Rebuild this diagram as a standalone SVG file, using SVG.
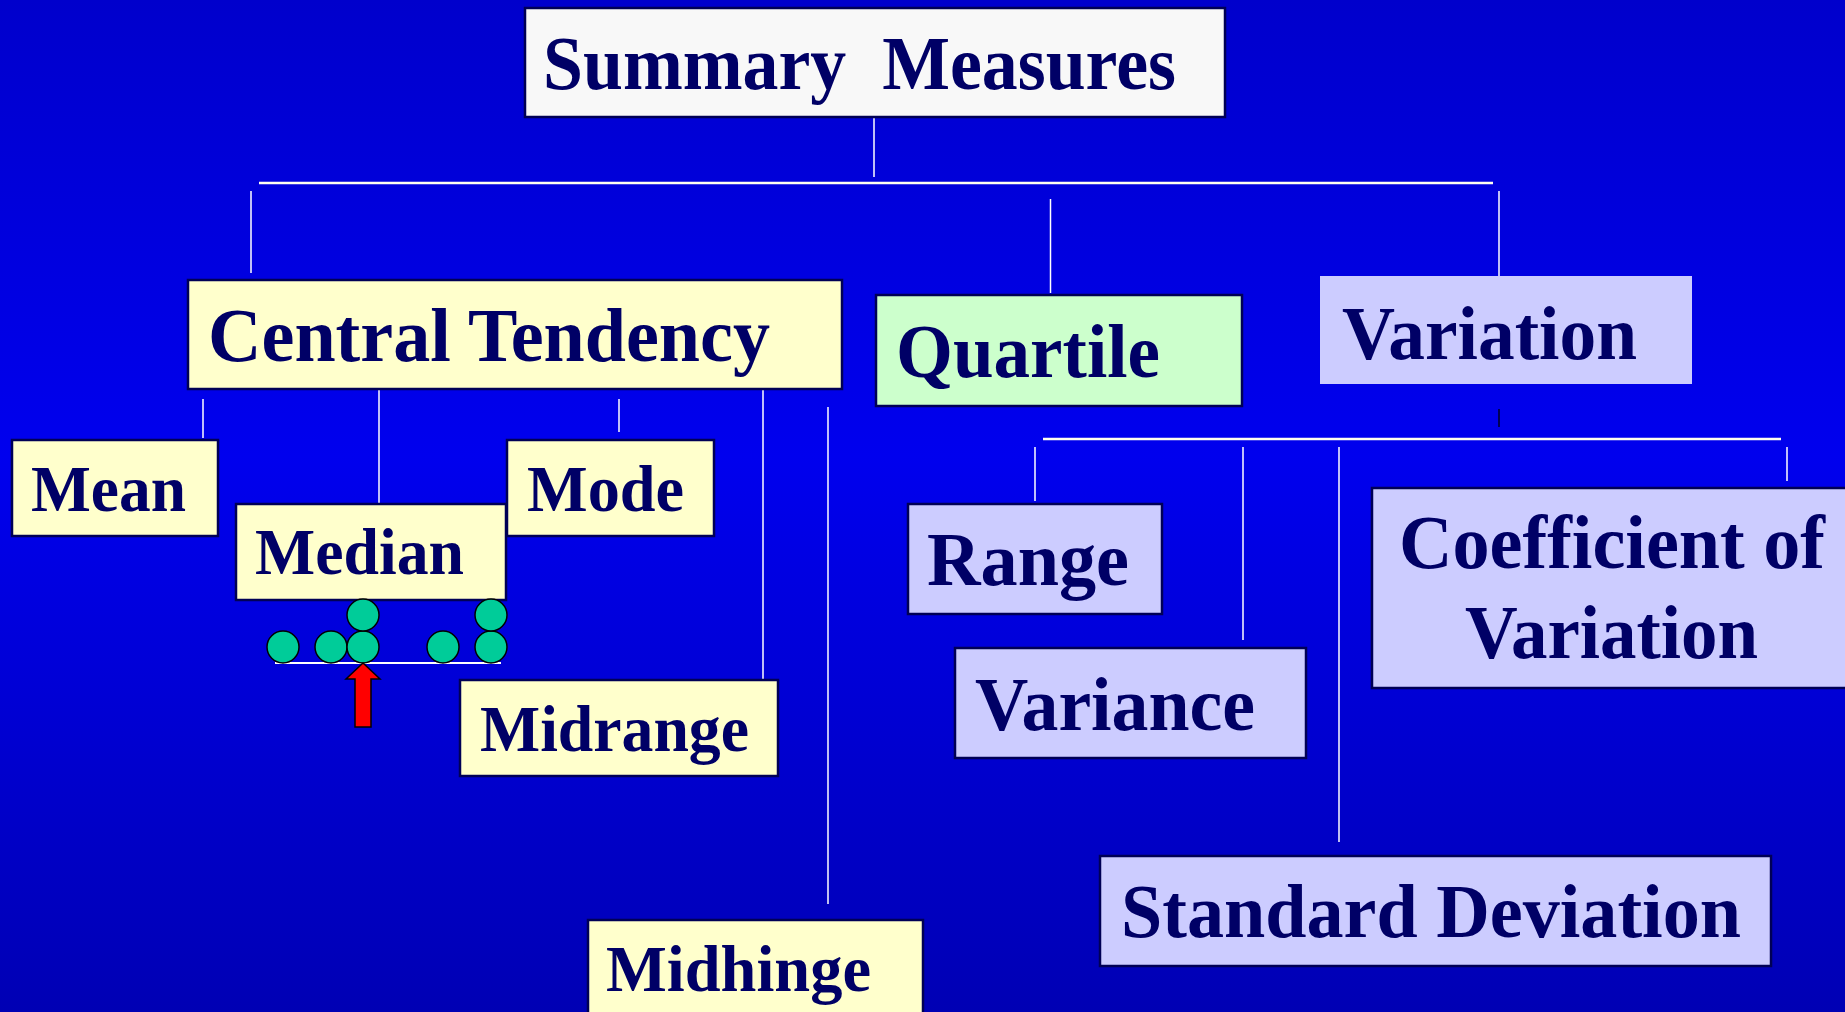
<svg xmlns="http://www.w3.org/2000/svg" width="1845" height="1012" viewBox="0 0 1845 1012">
  <defs>
    <linearGradient id="bg" x1="0" y1="0" x2="0" y2="1">
      <stop offset="0" stop-color="#0000cc"/>
      <stop offset="0.45" stop-color="#0000ee"/>
      <stop offset="1" stop-color="#0000b4"/>
    </linearGradient>
    <style>
      .box { stroke: #000055; stroke-width: 2.5; }
      .yellow { fill: #ffffcc; }
      .green { fill: #ccffcc; }
      .lilac { fill: #ccccff; }
      .plain { fill: #f8f8f8; }
      .lbl { font-family: "Liberation Serif", "Times New Roman", serif; font-weight: bold; fill: #000066; }
      .big { font-size: 77px; }
      .small { font-size: 65px; }
      .wire { stroke: #ffffff; stroke-width: 1.5; fill: none; }
      .bar { stroke: #fffff0; stroke-width: 2.5; fill: none; }
      .dot { fill: #00cc99; stroke: #000000; stroke-width: 1.5; }
    </style>
  </defs>

  <rect x="0" y="0" width="1845" height="1012" fill="url(#bg)"/>

  <!-- connectors -->
  <g id="connectors">
    <line class="wire" x1="874" y1="118" x2="874" y2="177"/>
    <line class="bar" x1="259" y1="183" x2="1493" y2="183"/>
    <line class="wire" x1="251" y1="191" x2="251" y2="273"/>
    <line class="wire" x1="1050.5" y1="199" x2="1050.5" y2="293"/>
    <line class="wire" x1="1499" y1="191" x2="1499" y2="276"/>
    <line class="wire" x1="203" y1="399" x2="203" y2="438"/>
    <line class="wire" x1="379" y1="390" x2="379" y2="503"/>
    <line class="wire" x1="619" y1="399" x2="619" y2="432"/>
    <line class="wire" x1="763" y1="390" x2="763" y2="679"/>
    <line class="wire" x1="828" y1="407" x2="828" y2="904"/>
    <line x1="1499" y1="409" x2="1499" y2="427" stroke="#000055" stroke-width="2"/>
    <line class="bar" x1="1043" y1="439" x2="1781" y2="439"/>
    <line class="wire" x1="1035" y1="447" x2="1035" y2="501"/>
    <line class="wire" x1="1243" y1="447" x2="1243" y2="640"/>
    <line class="wire" x1="1339" y1="447" x2="1339" y2="842"/>
    <line class="wire" x1="1787" y1="447" x2="1787" y2="481"/>
  </g>

  <g id="summary">
    <rect class="box plain" x="525" y="8" width="700" height="109"/>
    <text class="lbl big" x="543" y="89" textLength="633" lengthAdjust="spacingAndGlyphs" xml:space="preserve">Summary  Measures</text>
  </g>

  <g id="central-tendency">
    <rect class="box yellow" x="188" y="280" width="654" height="109"/>
    <text class="lbl big" x="208" y="361" textLength="562" lengthAdjust="spacingAndGlyphs">Central Tendency</text>
  </g>

  <g id="quartile">
    <rect class="box green" x="876" y="295" width="366" height="111"/>
    <text class="lbl big" x="896" y="377" textLength="264" lengthAdjust="spacingAndGlyphs">Quartile</text>
  </g>

  <g id="variation">
    <rect class="lilac" x="1320" y="276" width="372" height="108"/>
    <text class="lbl big" x="1342" y="359" textLength="295" lengthAdjust="spacingAndGlyphs">Variation</text>
  </g>

  <g id="mean">
    <rect class="box yellow" x="12" y="440" width="206" height="96"/>
    <text class="lbl small" x="31" y="511" textLength="155" lengthAdjust="spacingAndGlyphs">Mean</text>
  </g>

  <g id="mode">
    <rect class="box yellow" x="507" y="440" width="207" height="96"/>
    <text class="lbl small" x="527" y="511" textLength="157" lengthAdjust="spacingAndGlyphs">Mode</text>
  </g>

  <g id="median">
    <rect class="box yellow" x="236" y="504" width="270" height="96"/>
    <text class="lbl small" x="255" y="574" textLength="209" lengthAdjust="spacingAndGlyphs">Median</text>
  </g>

  <!-- dot plot with the median marked by an arrow -->
  <g id="median-dots">
    <line x1="275" y1="663" x2="501" y2="663" stroke="#ffffff" stroke-width="2"/>
    <circle class="dot" cx="283" cy="647" r="16"/>
    <circle class="dot" cx="331" cy="647" r="16"/>
    <circle class="dot" cx="363" cy="647" r="16"/>
    <circle class="dot" cx="363" cy="615" r="16"/>
    <circle class="dot" cx="443" cy="647" r="16"/>
    <circle class="dot" cx="491" cy="647" r="16"/>
    <circle class="dot" cx="491" cy="615" r="16"/>
    <polygon points="363,663 380,679 371,679 371,727 355,727 355,679 346,679" fill="#ff0000" stroke="#000000" stroke-width="1.5"/>
  </g>

  <g id="midrange">
    <rect class="box yellow" x="460" y="680" width="318" height="96"/>
    <text class="lbl small" x="480" y="751" textLength="269" lengthAdjust="spacingAndGlyphs">Midrange</text>
  </g>

  <g id="midhinge">
    <rect class="box yellow" x="588" y="920" width="335" height="100"/>
    <text class="lbl small" x="606" y="991" textLength="265" lengthAdjust="spacingAndGlyphs">Midhinge</text>
  </g>

  <g id="range">
    <rect class="box lilac" x="908" y="504" width="254" height="110"/>
    <text class="lbl big" x="927" y="585" textLength="202" lengthAdjust="spacingAndGlyphs">Range</text>
  </g>

  <g id="variance">
    <rect class="box lilac" x="955" y="648" width="351" height="110"/>
    <text class="lbl big" x="975" y="730" textLength="280" lengthAdjust="spacingAndGlyphs">Variance</text>
  </g>

  <g id="coefficient-of-variation">
    <rect class="box lilac" x="1372" y="488" width="480" height="200"/>
    <text class="lbl big" x="1399" y="568" textLength="426" lengthAdjust="spacingAndGlyphs">Coefficient of</text>
    <text class="lbl big" x="1465" y="658" textLength="293" lengthAdjust="spacingAndGlyphs">Variation</text>
  </g>

  <g id="standard-deviation">
    <rect class="box lilac" x="1100" y="856" width="671" height="110"/>
    <text class="lbl big" x="1121" y="937" textLength="620" lengthAdjust="spacingAndGlyphs">Standard Deviation</text>
  </g>
</svg>
